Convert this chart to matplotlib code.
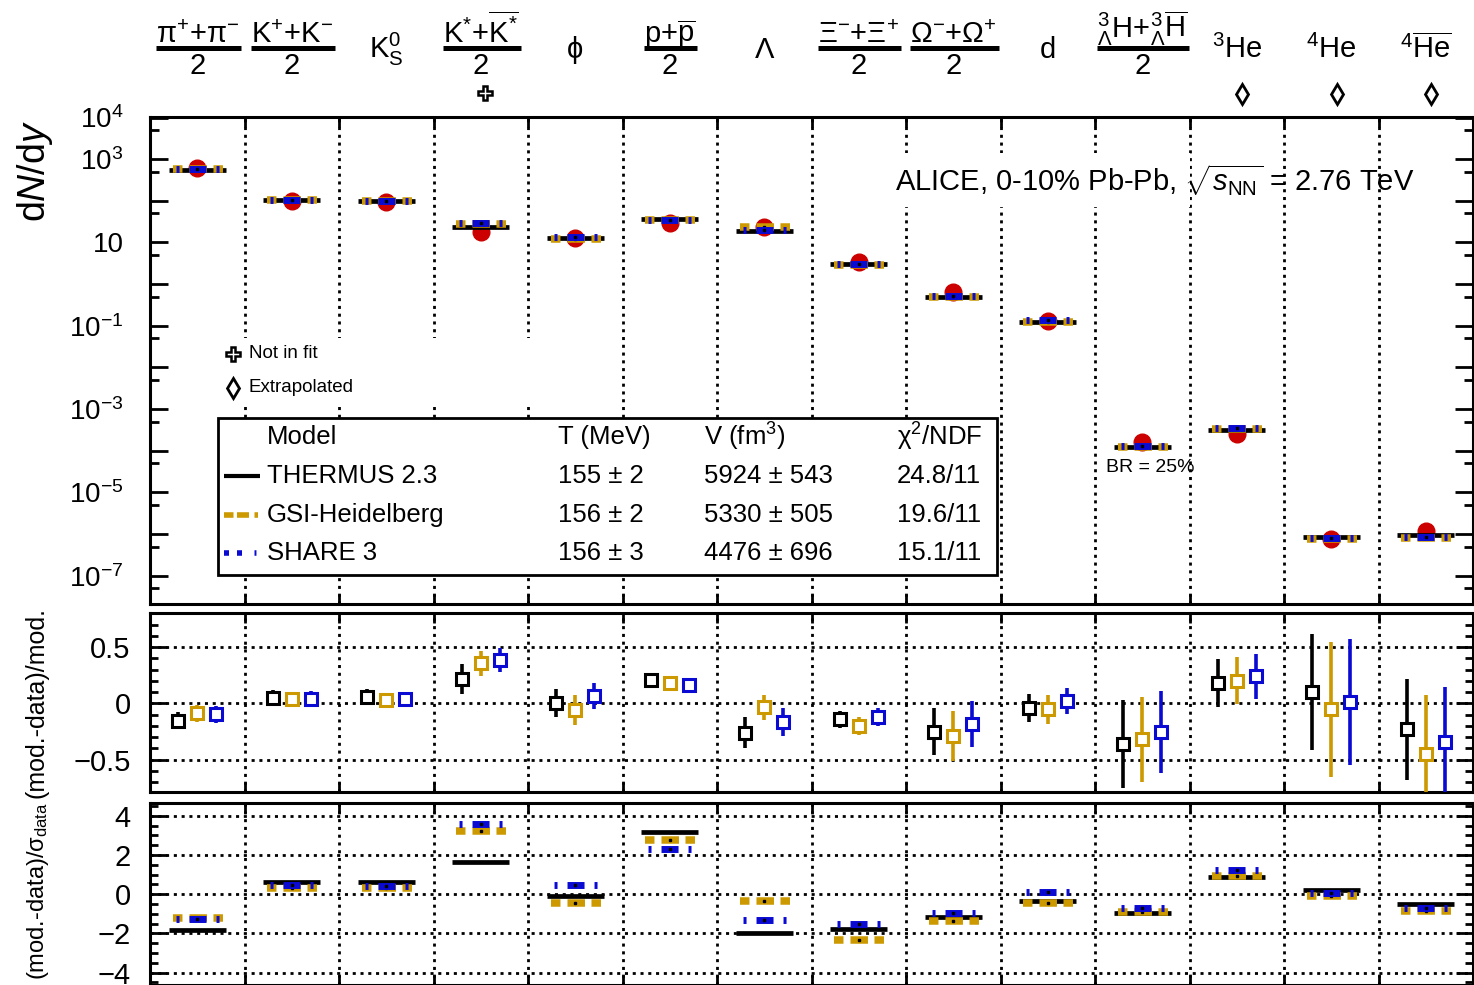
import numpy as np
import matplotlib
matplotlib.use('Agg')
import matplotlib.pyplot as plt
from matplotlib.patches import Rectangle
from matplotlib.lines import Line2D
from matplotlib.transforms import blended_transform_factory
from matplotlib.ticker import FixedLocator, FixedFormatter, MultipleLocator, NullFormatter

plt.rcParams['font.family'] = ['Liberation Sans', 'DejaVu Sans']
plt.rcParams['mathtext.fontset'] = 'custom'
plt.rcParams['mathtext.rm'] = 'Liberation Sans'
plt.rcParams['mathtext.it'] = 'Liberation Sans:italic'
plt.rcParams['mathtext.bf'] = 'Liberation Sans:bold'
plt.rcParams['mathtext.sf'] = 'Liberation Sans'
plt.rcParams['lines.scale_dashes'] = False

# particle species (column labels)
numerators = [r'π$^{+}$+π$^{-}$', r'K$^{+}$+K$^{-}$', r'K${}^{0}_{\mathrm{S}}$',
              r'K$^{*}$+$\overline{\mathrm{K}^{*}}$', 'ϕ', r'p+$\overline{\mathrm{p}}$', 'Λ',
              r'Ξ$^{-}$+Ξ$^{+}$', r'Ω$^{-}$+Ω$^{+}$', 'd',
              r'${}^{3}_{\Lambda}\mathrm{H}$+${}^{3}_{\Lambda}\overline{\mathrm{H}}$',
              r'${}^{3}$He', r'${}^{4}$He', r'${}^{4}\overline{\mathrm{He}}$']
is_average = [True, True, False, True, False, True, False, True, True, False, True, False, False, False]
not_in_fit = [False, False, False, True, False, False, False, False, False, False, False, False, False, False]
extrapolated = [False, False, False, False, False, False, False, False, False, False, False, True, True, True]

# dN/dy, measured and model
data_yield = [625, 100, 94, 18.0, 12.7, 28.6, 23.7, 3.42, 0.63, 0.131, 1.63e-4, 2.59e-4, 7.8e-7, 1.17e-6]
thermus_yield = [542, 105, 100, 23.0, 12.7, 36.0, 18.8, 3.0, 0.503, 0.126, 1.20e-4, 3.17e-4, 8.7e-7, 9.5e-7]
gsi_yield = [574, 104, 97, 27.9, 12.0, 35.0, 22.9, 2.85, 0.489, 0.124, 1.23e-4, 3.24e-4, 7.4e-7, 8.1e-7]
share_yield = [569, 104, 98, 29.3, 13.6, 34.2, 20.4, 3.06, 0.532, 0.134, 1.30e-4, 3.42e-4, 7.9e-7, 8.7e-7]

# (mod.-data)/mod. with errors
thermus_dev = [-0.154, 0.05, 0.058, 0.216, 0.0, 0.207, -0.261, -0.142, -0.252, -0.039, -0.361, 0.183, 0.103, -0.231]
gsi_dev = [-0.089, 0.035, 0.03, 0.355, -0.06, 0.183, -0.036, -0.2, -0.29, -0.053, -0.32, 0.201, -0.053, -0.45]
share_dev = [-0.098, 0.041, 0.04, 0.385, 0.065, 0.163, -0.163, -0.118, -0.184, 0.02, -0.252, 0.242, 0.014, -0.341]
thermus_dev_err = [0.075, 0.07, 0.07, 0.133, 0.123, 0.03, 0.136, 0.078, 0.21, 0.126, 0.394, 0.213, 0.514, 0.447]
gsi_dev_err = [0.074, 0.065, 0.065, 0.108, 0.13, 0.03, 0.111, 0.081, 0.22, 0.13, 0.38, 0.211, 0.597, 0.524]
share_dev_err = [0.075, 0.065, 0.065, 0.107, 0.114, 0.03, 0.126, 0.081, 0.203, 0.115, 0.365, 0.2, 0.56, 0.483]

# (mod.-data)/sigma_data
thermus_pull = [-1.82, 0.61, 0.61, 1.66, -0.09, 3.16, -1.96, -1.79, -1.17, -0.36, -0.94, 0.87, 0.22, -0.51]
gsi_pull = [-1.22, 0.34, 0.32, 3.23, -0.46, 2.77, -0.34, -2.33, -1.35, -0.46, -0.9, 0.95, -0.09, -0.84]
share_pull = [-1.28, 0.47, 0.4, 3.57, 0.47, 2.3, -1.31, -1.53, -0.94, 0.13, -0.7, 1.24, 0.05, -0.72]

# fit results table
model_names = ['THERMUS 2.3', 'GSI-Heidelberg', 'SHARE 3']
model_T = ['155 ± 2', '156 ± 2', '156 ± 3']
model_V = ['5924 ± 543', '5330 ± 505', '4476 ± 696']
model_chi2 = ['24.8/11', '19.6/11', '15.1/11']

RED = '#cc0000'
GOLD = '#cc9900'
BLUE = '#0a0ad2'

W, H = 1474, 985


def fx(px):
    return px / W


def fy(py):
    return 1 - py / H


styles = [
    dict(color='black', linestyle='-', lw=3.4),
    dict(color=GOLD, linestyle=(38.9, (6.84, 5.04, 12.6, 4.68, 6.84, 5.76)), lw=5.4),
    dict(color=BLUE, linestyle=(36.7, (2.16, 7.2, 12.24, 7.2, 2.16, 10.8)), lw=5.0),
]


def draw_segments(ax, yvals, style, z):
    for xc, yv in zip(xpos, yvals):
        ax.plot([xc - 0.3, xc + 0.3], [yv, yv], solid_capstyle='butt', dash_capstyle='butt',
                zorder=z, **style)
    if style['color'] != 'black':
        ax.plot(xpos, yvals, 's', ms=1.8, color='black', zorder=z + 0.5)


def style_frame(ax):
    for sp in ax.spines.values():
        sp.set_linewidth(2.2)
    ax.set_xlim(0, 14)
    ax.set_xticks(np.arange(15))
    ax.tick_params(axis='x', which='both', direction='in', top=True, bottom=True,
                   length=7, width=2, labelbottom=False)
    ax.tick_params(axis='y', which='both', direction='in', left=True, right=True, width=2)


xpos = np.arange(14) + 0.5
dotted = dict(color='black', lw=2.0, linestyle=(0, (2.2, 3.4)))

fig = plt.figure(figsize=(14.74, 9.85), dpi=100)
ax_top = fig.add_axes([fx(150), fy(604), 1323 / W, 487.3 / H])
ax_mid = fig.add_axes([fx(150), fy(792.3), 1323 / W, 179.6 / H])
ax_bot = fig.add_axes([fx(150), 0, 1323 / W, 182.3 / H])

# 1. yields
style_frame(ax_top)
ax_top.set_yscale('log')
ax_top.set_ylim(10 ** -7.68, 10 ** 4.02)
ax_top.yaxis.set_major_locator(FixedLocator(10.0 ** np.arange(-7, 5)))
ax_top.yaxis.set_major_formatter(FixedFormatter(
    [r'$10^{-7}$', '', r'$10^{-5}$', '', r'$10^{-3}$', '', r'$10^{-1}$', '', '10', '',
     r'$10^{3}$', r'$10^{4}$']))
ax_top.yaxis.set_minor_locator(FixedLocator([5 * 10.0 ** k for k in range(-8, 4)]))
ax_top.yaxis.set_minor_formatter(NullFormatter())
ax_top.tick_params(axis='y', which='major', length=13, labelsize=20, pad=19)
ax_top.tick_params(axis='y', which='minor', length=6.5)
for b in range(1, 14):
    ax_top.axvline(b, zorder=1, **dotted)

ax_top.plot(xpos, data_yield, 'o', ms=12, color=RED, zorder=4)
for k, yv in enumerate([thermus_yield, gsi_yield, share_yield]):
    draw_segments(ax_top, yv, styles[k], 5 + k)

# white pads behind the annotations
ax_top.add_patch(Rectangle((fx(218), fy(405)), fx(530) - fx(218), (405 - 338) / H,
                           transform=fig.transFigure, facecolor='white', edgecolor='none', zorder=2))
ax_top.add_patch(Rectangle((fx(860), fy(207)), fx(1190) - fx(860), (207 - 153) / H,
                           transform=fig.transFigure, facecolor='white', edgecolor='none', zorder=2))
ax_top.text(fx(895), fy(180), r'ALICE, 0-10% Pb-Pb, $\sqrt{s_{\mathrm{NN}}}$ = 2.76 TeV',
            transform=fig.transFigure, fontsize=21, ha='left', va='center', zorder=3)
ax_top.text(10.58, fy(468), 'BR = 25%', transform=blended_transform_factory(ax_top.transData, fig.transFigure),
            fontsize=14, ha='center', va='center', zorder=3)

ax_top.plot(fx(233), fy(354), 'P', ms=10, mfc='white', mec='black', mew=1.8,
            transform=fig.transFigure, clip_on=False, zorder=3)
ax_top.plot(fx(233), fy(388), 'd', ms=10, mfc='white', mec='black', mew=2,
            transform=fig.transFigure, clip_on=False, zorder=3)
ax_top.text(fx(249), fy(354), 'Not in fit', transform=fig.transFigure, fontsize=13.5, va='center', zorder=3)
ax_top.text(fx(249), fy(388), 'Extrapolated', transform=fig.transFigure, fontsize=13.5, va='center', zorder=3)

# fit summary box
ax_top.add_patch(Rectangle((fx(218), fy(575)), fx(997) - fx(218), (575 - 418) / H,
                           transform=fig.transFigure, facecolor='white', edgecolor='black', lw=2.0, zorder=8))
header = ['Model', 'T (MeV)', r'V (fm$^{3}$)', r'χ$^{2}$/NDF']
col_x = [267, 558, 704, 897]
for cx, s in zip(col_x, header):
    ax_top.text(fx(cx), fy(437), s, transform=fig.transFigure, fontsize=18.5, va='center', zorder=9)
row_y = [476, 515, 553]
legend_styles = [
    dict(color='black', linestyle='-', lw=3.0),
    dict(color=GOLD, linestyle=(0, (6.84, 2.52, 8.64, 3.96, 2.52, 20)), lw=4.0),
    dict(color=BLUE, linestyle=(0, (3.6, 5.76, 3.6, 9.0, 1.4, 20)), lw=4.0),
]
for k in range(3):
    ry = row_y[k]
    ax_top.plot([fx(224), fx(260)], [fy(ry), fy(ry)], transform=fig.transFigure, clip_on=False,
                solid_capstyle='butt', dash_capstyle='butt', zorder=9, **legend_styles[k])
    for cx, s in zip(col_x, [model_names[k], model_T[k], model_V[k], model_chi2[k]]):
        ax_top.text(fx(cx), fy(ry), s, transform=fig.transFigure, fontsize=18.5, va='center', zorder=9)

# species labels above the frame
lab_trans = blended_transform_factory(ax_top.transData, fig.transFigure)
num_texts = []
for i, s in enumerate(numerators):
    if is_average[i]:
        base = 38 if i == 10 else 43
        t = ax_top.text(xpos[i], fy(base), s, transform=lab_trans, fontsize=21,
                        ha='center', va='baseline', clip_on=False)
        ax_top.text(xpos[i], fy(74), '2', transform=lab_trans, fontsize=21,
                    ha='center', va='baseline', clip_on=False)
        num_texts.append(t)
    else:
        ax_top.text(xpos[i], fy(58), s, transform=lab_trans, fontsize=21,
                    ha='center', va='baseline', clip_on=False)
    if not_in_fit[i]:
        ax_top.plot(xpos[i] + 0.04, fy(93), 'P', ms=10, mfc='white', mec='black', mew=1.8,
                    transform=lab_trans, clip_on=False)
    if extrapolated[i]:
        ax_top.plot(xpos[i] + 0.06, fy(94), 'd', ms=10, mfc='white', mec='black', mew=2,
                    transform=lab_trans, clip_on=False)

# 2. relative deviation
style_frame(ax_mid)
ax_mid.set_ylim(-0.79, 0.805)
ax_mid.yaxis.set_major_locator(FixedLocator([-0.5, 0, 0.5]))
ax_mid.yaxis.set_major_formatter(FixedFormatter(['−0.5', '0', '0.5']))
ax_mid.yaxis.set_minor_locator(MultipleLocator(0.1))
ax_mid.tick_params(axis='y', which='major', length=12, labelsize=21, pad=14)
ax_mid.tick_params(axis='y', which='minor', length=6)
ax_mid.grid(True, which='major', **dotted)
ax_mid.set_axisbelow(True)
for k, (dev, err, off) in enumerate(zip([thermus_dev, gsi_dev, share_dev],
                                        [thermus_dev_err, gsi_dev_err, share_dev_err],
                                        [-0.2, 0.0, 0.2])):
    c = styles[k]['color']
    ax_mid.errorbar(xpos + off, dev, yerr=err, fmt='s', ms=8.5, mfc='white', mec=c, mew=2.2,
                    ecolor=c, elinewidth=2.6, capsize=0, zorder=5 + k)

# 3. deviation in units of sigma
style_frame(ax_bot)
ax_bot.set_ylim(-4.63, 4.67)
ax_bot.yaxis.set_major_locator(FixedLocator([-4, -2, 0, 2, 4]))
ax_bot.yaxis.set_major_formatter(FixedFormatter(['−4', '−2', '0', '2', '4']))
ax_bot.yaxis.set_minor_locator(MultipleLocator(0.5))
ax_bot.tick_params(axis='y', which='major', length=12, labelsize=21, pad=14)
ax_bot.tick_params(axis='y', which='minor', length=6)
ax_bot.grid(True, which='major', **dotted)
ax_bot.set_axisbelow(True)
for k, yv in enumerate([thermus_pull, gsi_pull, share_pull]):
    draw_segments(ax_bot, yv, styles[k], 5 + k)

# axis titles
fig.text(fx(35), fy(120), r'd$N$/d$y$', rotation=90, fontsize=27, ha='center', va='top')
fig.text(fx(37), fy(607), '(mod.-data)/mod.', rotation=90, fontsize=18, ha='center', va='top')
fig.text(fx(38), fy(802), r'(mod.-data)/σ$_{\mathrm{data}}$', rotation=90, fontsize=17,
         ha='center', va='top')

# fraction bars under the averaged species
fig.canvas.draw()
for t in num_texts:
    bb = t.get_window_extent()
    fig.add_artist(Line2D([bb.x0 / W, (bb.x1 + 2) / W], [fy(48), fy(48)], transform=fig.transFigure,
                          color='black', lw=3.6, solid_capstyle='butt'))

fig.savefig('out.png', dpi=100)
